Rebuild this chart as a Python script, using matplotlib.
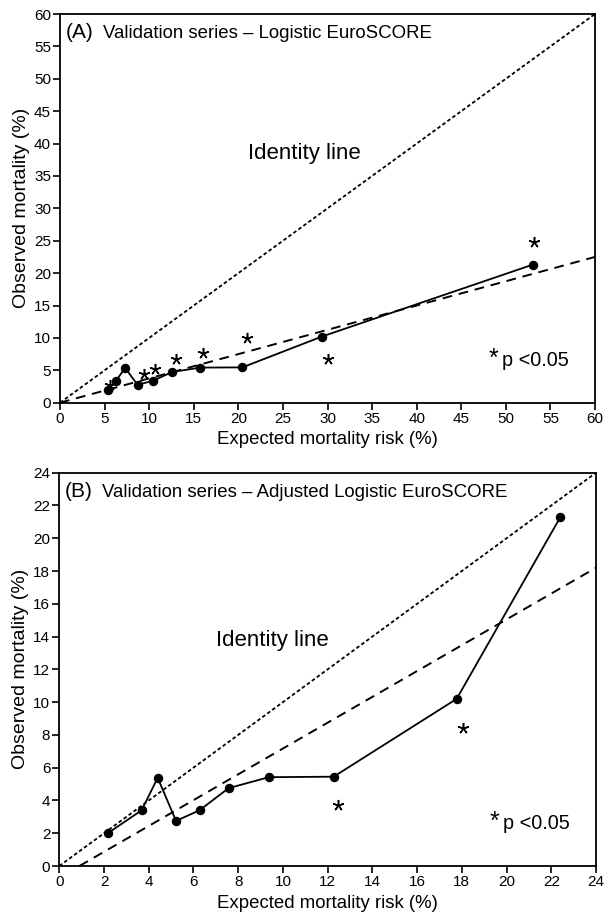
import matplotlib
matplotlib.use("Agg")
import matplotlib.pyplot as plt

plt.rcParams['font.family'] = ['Liberation Sans', 'DejaVu Sans']

# ---- data ----
observed = [2.0, 3.4, 5.38, 2.75, 3.4, 4.75, 5.42, 5.45, 10.2, 21.3]
expected_A = [5.35, 6.3, 7.3, 8.7, 10.45, 12.6, 15.75, 20.45, 29.35, 53.0]
expected_B = [2.17, 3.68, 4.4, 5.22, 6.27, 7.57, 9.37, 12.27, 17.77, 22.41]

sig_A_x = [5.65, 9.4, 10.6, 13.05, 16.05, 20.95, 30.1, 53.15]
sig_A_y = [2.7, 4.4, 5.15, 6.75, 7.6, 9.95, 6.7, 24.85]
sig_B_x = [12.47, 18.06]
sig_B_y = [3.7, 8.45]

recal_A_x = [0, 60]
recal_A_y = [0, 22.5]
recal_B_x = [0.9, 24]
recal_B_y = [0, 18.2]

max_A = 60
max_B = 24
ticks_A = list(range(0, 61, 5))
ticks_B = list(range(0, 25, 2))

titles = ["(A)", "(B)"]
subtitles = ["Validation series \u2013 Logistic EuroSCORE",
             "Validation series \u2013 Adjusted Logistic EuroSCORE"]

fig = plt.figure(figsize=(6.08, 9.17), dpi=100)
axA = fig.add_axes([60/608, 1-402.7/917, 535/608, 388.7/917])
axB = fig.add_axes([59.3/608, 1-866/917, 536.7/608, 393.3/917])

panels = [
    (axA, expected_A, max_A, ticks_A, sig_A_x, sig_A_y, recal_A_x, recal_A_y, (0.351, 0.628)),
    (axB, expected_B, max_B, ticks_B, sig_B_x, sig_B_y, recal_B_x, recal_B_y, (0.292, 0.559)),
]

for i, (ax, ex, mx, ticks, sx, sy, rx, ry, idpos) in enumerate(panels):
    ax.plot([0, mx], [0, mx], color='black', lw=1.3, linestyle=(0, (2, 1.4)))
    ax.plot(rx, ry, color='black', lw=1.4, linestyle=(0, (5, 3.5)))
    ax.plot(ex, observed, color='black', lw=1.3, marker='o', markersize=5.8)
    ax.plot(sx, sy, linestyle='none', marker=(5, 2, 0), markersize=8,
            markeredgewidth=1.1, color='black')
    ax.set_xlim(0, mx)
    ax.set_ylim(0, mx)
    ax.set_xticks(ticks)
    ax.set_yticks(ticks)
    ax.tick_params(direction='out', length=5, width=1.2, labelsize=11, pad=1.5,
                   top=False, right=False)
    for s in ax.spines.values():
        s.set_linewidth(1.3)
    ax.set_xlabel("Expected mortality risk (%)", fontsize=13.4, labelpad=4)
    ax.set_ylabel("Observed mortality (%)", fontsize=14, labelpad=3)
    ax.text(0.011, 0.937, titles[i], transform=ax.transAxes, fontsize=15,
            ha='left', va='baseline')
    ax.text(0.080, 0.937, subtitles[i], transform=ax.transAxes, fontsize=13.4,
            ha='left', va='baseline')
    ax.text(idpos[0], idpos[1], "Identity line", transform=ax.transAxes,
            fontsize=16, ha='left', va='baseline')
    ax.text(0.826, 0.094, "p <0.05", transform=ax.transAxes, fontsize=14.3,
            ha='left', va='baseline')
    ax.text(0.82, 0.094, "*", transform=ax.transAxes, fontsize=18,
            ha='right', va='baseline')

fig.savefig("out.png", dpi=100)
